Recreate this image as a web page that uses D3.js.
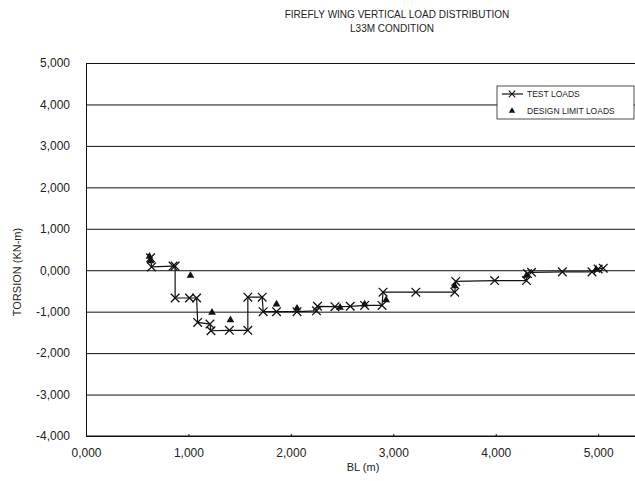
<!DOCTYPE html>
<html>
<head>
<meta charset="utf-8">
<script src="https://cdn.jsdelivr.net/npm/d3@7"></script>
<style>
  body { margin: 0; background: #fff; }
  svg { display: block; font-family: "Liberation Sans", Arial, sans-serif; }
  .tick text { fill: #222; }
</style>
</head>
<body>
<svg width="635" height="481"></svg>
<script>
// test loads (stepped line with x markers)
const testX = [0.63, 0.64, 0.85, 0.87, 0.87, 1.01, 1.08, 1.09, 1.21, 1.22, 1.40, 1.58, 1.58, 1.72, 1.73, 1.86, 2.06, 2.25, 2.26, 2.43, 2.58, 2.72, 2.89, 2.90, 3.22, 3.60, 3.61, 3.99, 4.30, 4.31, 4.35, 4.65, 4.94, 5.00, 5.05];
const testY = [0.30, 0.08, 0.10, 0.10, -0.67, -0.67, -0.67, -1.26, -1.30, -1.46, -1.45, -1.45, -0.65, -0.65, -1.00, -1.00, -1.00, -0.98, -0.87, -0.88, -0.87, -0.85, -0.85, -0.53, -0.53, -0.53, -0.27, -0.25, -0.25, -0.08, -0.05, -0.04, -0.04, 0.03, 0.05];

// design limit loads
const designX = [0.62, 0.63, 1.02, 1.23, 1.41, 1.86, 2.06, 2.48, 2.72, 2.93, 3.60, 4.30, 4.98];
const designY = [0.33, 0.22, -0.13, -1.02, -1.20, -0.82, -0.92, -0.90, -0.82, -0.72, -0.38, -0.13, 0.02];

const xTicks = [0, 1, 2, 3, 4, 5];
const yTicks = [-4, -3, -2, -1, 0, 1, 2, 3, 4, 5];

const fmt = v => (v < 0 ? "-" : "") + Math.abs(v).toFixed(3).replace(".", ",");

const svg = d3.select('svg');
const plotL = 86, plotR = 634, plotT = 63, plotB = 436;

const x = d3.scaleLinear().domain([0, 5.35]).range([plotL, plotR]);
const y = d3.scaleLinear().domain([-4, 5]).range([plotB, plotT]);

// title
svg.append('text').attr('x', 397).attr('y', 18).attr('text-anchor', 'middle')
  .attr('font-size', 10).attr('fill', '#222')
  .text('FIREFLY WING VERTICAL LOAD DISTRIBUTION');
svg.append('text').attr('x', 392).attr('y', 32).attr('text-anchor', 'middle')
  .attr('font-size', 10).attr('fill', '#222')
  .text('L33M CONDITION');

// horizontal grid
svg.append('g')
  .attr('transform', `translate(${plotL},0)`)
  .call(d3.axisRight(y).tickValues(yTicks).tickSize(plotR - plotL + 2).tickFormat(''))
  .call(g => g.select('.domain').remove())
  .call(g => g.selectAll('.tick line').attr('stroke', '#111').attr('stroke-width', 1));

// y labels
svg.append('g')
  .attr('transform', `translate(${plotL},0)`)
  .call(d3.axisLeft(y).tickValues(yTicks).tickSize(0).tickPadding(16).tickFormat(fmt))
  .call(g => g.select('.domain').attr('stroke', '#111'))
  .call(g => g.selectAll('.tick text').attr('font-size', 12).attr('font-family', '"Liberation Sans", Arial, sans-serif'));

// x axis
svg.append('g')
  .attr('transform', `translate(0,${plotB})`)
  .call(d3.axisTop(x).tickValues(xTicks).tickSize(2).tickFormat(''))
  .call(g => g.select('.domain').attr('stroke', '#111').attr('d', `M${plotL},0H${plotR + 2}`))
  .call(g => g.selectAll('.tick line').attr('stroke', '#111'));

svg.append('g')
  .attr('transform', `translate(0,${plotB})`)
  .call(d3.axisBottom(x).tickValues(xTicks).tickSize(0).tickPadding(12).tickFormat(fmt))
  .call(g => g.select('.domain').remove())
  .call(g => g.selectAll('.tick text').attr('font-size', 12).attr('font-family', '"Liberation Sans", Arial, sans-serif'));

// axis titles
svg.append('text').attr('x', 363).attr('y', 471).attr('text-anchor', 'middle')
  .attr('font-size', 11).attr('fill', '#222').text('BL (m)');
svg.append('text').attr('transform', 'translate(21,272) rotate(-90)')
  .attr('text-anchor', 'middle').attr('font-size', 11).attr('fill', '#222')
  .text('TORSION (KN-m)');

// test loads line
const testData = testX.map((v, i) => [v, testY[i]]);
svg.append('path')
  .datum(testData)
  .attr('fill', 'none').attr('stroke', '#111').attr('stroke-width', 1.2)
  .attr('d', d3.line().x(d => x(d[0])).y(d => y(d[1])));

const cross = d3.symbol().type(d3.symbolTimes).size(50);
svg.append('g').selectAll('path')
  .data(testData).join('path')
  .attr('transform', d => `translate(${x(d[0])},${y(d[1])})`)
  .attr('d', cross)
  .attr('stroke', '#111').attr('stroke-width', 1.3).attr('fill', 'none');

// design limit loads
const designData = designX.map((v, i) => [v, designY[i]]);
const tri = d3.symbol().type(d3.symbolTriangle).size(26);
svg.append('g').selectAll('path')
  .data(designData).join('path')
  .attr('transform', d => `translate(${x(d[0])},${y(d[1])})`)
  .attr('d', tri)
  .attr('fill', '#111');

// legend
const lg = svg.append('g').attr('transform', 'translate(497,86)');
lg.append('rect').attr('width', 137).attr('height', 33)
  .attr('fill', '#fff').attr('stroke', '#222').attr('stroke-width', 0.8);
lg.append('line').attr('x1', 5).attr('x2', 26).attr('y1', 8).attr('y2', 8)
  .attr('stroke', '#111').attr('stroke-width', 1.2);
lg.append('path').attr('transform', 'translate(15,8)').attr('d', d3.symbol().type(d3.symbolTimes).size(30))
  .attr('stroke', '#111').attr('stroke-width', 1.1).attr('fill', 'none');
lg.append('path').attr('transform', 'translate(15,25)').attr('d', d3.symbol().type(d3.symbolTriangle).size(18)).attr('fill', '#111');
lg.append('text').attr('x', 30).attr('y', 11).attr('font-size', 8.5).attr('fill', '#222').text('TEST LOADS');
lg.append('text').attr('x', 30).attr('y', 28).attr('font-size', 8.5).attr('fill', '#222').text('DESIGN LIMIT LOADS');
</script>
</body>
</html>
